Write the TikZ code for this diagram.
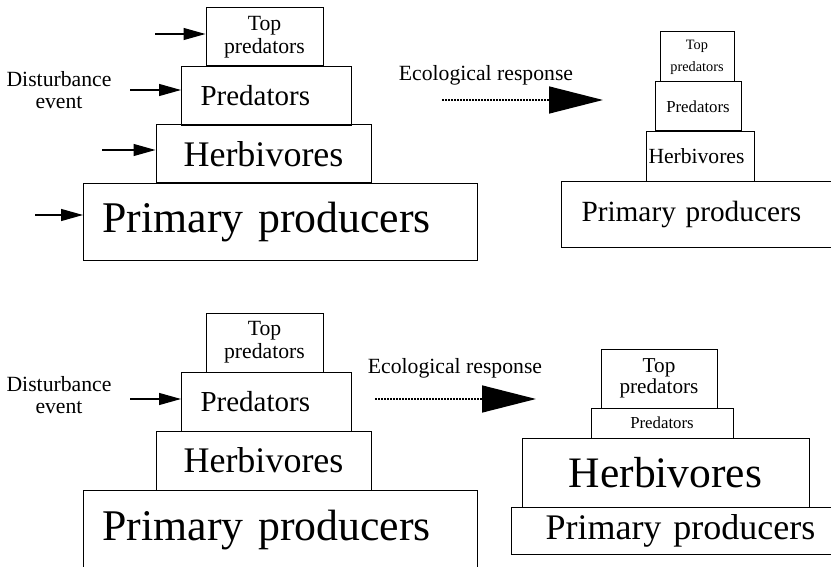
\documentclass[tikz,border=0pt]{standalone}
\usepackage{fontspec}
\setmainfont{Liberation Serif}
\usetikzlibrary{arrows.meta}
\newcommand\setsz[2]{\fontsize{#1pt}{#2pt}\selectfont}

\begin{document}
\begin{tikzpicture}[x=1pt, y=-1pt,
    level/.style={draw, line width=1pt, inner sep=0pt, align=center},
    base/.style={draw, line width=1pt, inner sep=0pt, inner xsep=#1, align=left, anchor=north west},
    hit/.style={line width=1.2pt, -{Triangle[length=22pt,width=12pt]}},
    response/.style={line width=1.5pt, dash pattern=on 1.5pt off 1.5pt, -{Triangle[length=54pt,width=27pt]}},
    note/.style={align=center, font=\setsz{21.7}{22}}]
  \useasboundingbox (0,0) rectangle (831,567);

  % Before the disturbance (top row)
  \node[level, minimum width=117pt, minimum height=58pt, font=\setsz{21.7}{23}] (tpA) at (264.5,37) {Top\\predators};
  \node[base=19pt, text width=132pt, minimum height=59pt, font=\setsz{29}{31}] (prA) at (181,66) {Predators};
  \node[level, minimum width=215pt, minimum height=58pt, font=\setsz{36}{38}] (hbA) at (263.5,154) {Herbivores};
  \node[base=19pt, text width=356pt, minimum height=77pt, font=\setsz{43.8}{46}] (ppA) at (83,183) {Primary producers};

  \node[note] (dA) at (59,90) {Disturbance\\event};
  \coordinate (a1) at (155,34);
  \coordinate (a2) at (130,90);
  \coordinate (a3) at (102,150);
  \coordinate (a4) at (35,215);
  \draw[hit] (a1) -- (a1 -| tpA.west);
  \draw[hit] (a2) -- (a2 -| prA.west);
  \draw[hit] (a3) -- (a3 -| hbA.west);
  \draw[hit] (a4) -- (a4 -| ppA.west);

  \node[note] (eA) at (486,75) {Ecological response};
  \coordinate (rA1) at (442,100);
  \coordinate (rA2) at (603,100);
  \draw[response] (rA1) -- (rA2);

  % After the response (top row)
  \node[level, minimum width=74pt, minimum height=50pt, font=\setsz{14.3}{22}] (tpB) at (697,57) {Top\\predators};
  \node[level, minimum width=86pt, minimum height=49pt, font=\setsz{16.8}{18}] (prB) at (698,106.5) {Predators};
  \node[base=2pt, text width=104pt, minimum height=50pt, font=\setsz{21.6}{23}] (hbB) at (646,131) {Herbivores};
  \node[base=20pt, text width=280pt, minimum height=66pt, font=\setsz{29.3}{31}] (ppB) at (561,181) {Primary producers};

  % Before the disturbance (bottom row)
  \node[level, minimum width=117pt, minimum height=59pt, font=\setsz{21.7}{23}] (tpC) at (264.5,342.5) {Top\\predators};
  \node[base=19pt, text width=132pt, minimum height=59pt, font=\setsz{29}{31}] (prC) at (181,372) {Predators};
  \node[level, minimum width=215pt, minimum height=59pt, font=\setsz{36}{38}] (hbC) at (263.5,460.5) {Herbivores};
  \node[base=19pt, text width=356pt, minimum height=80pt, font=\setsz{43.8}{46}] (ppC) at (83,490) {Primary producers};

  \node[note] (dC) at (59,395) {Disturbance\\event};
  \coordinate (c2) at (130,399);
  \draw[hit] (c2) -- (c2 -| prC.west);

  \node[note] (eC) at (455,368) {Ecological response};
  \coordinate (rC1) at (375,399);
  \coordinate (rC2) at (536,399);
  \draw[response] (rC1) -- (rC2);

  % After the response (bottom row)
  \node[level, minimum width=116pt, minimum height=59pt, font=\setsz{21.2}{21}] (tpD) at (659,378.5) {Top\\predators};
  \node[level, minimum width=142pt, minimum height=30pt, font=\setsz{16.8}{18}] (prD) at (662,423) {Predators};
  \node[level, minimum width=287pt, minimum height=69pt, font=\setsz{43.5}{46}] (hbD) at (665.5,472.5) {Herbivores};
  \node[base=34pt, text width=300pt, minimum height=47pt, font=\setsz{36}{38}] (ppD) at (511,507) {Primary producers};
\end{tikzpicture}
\end{document}
